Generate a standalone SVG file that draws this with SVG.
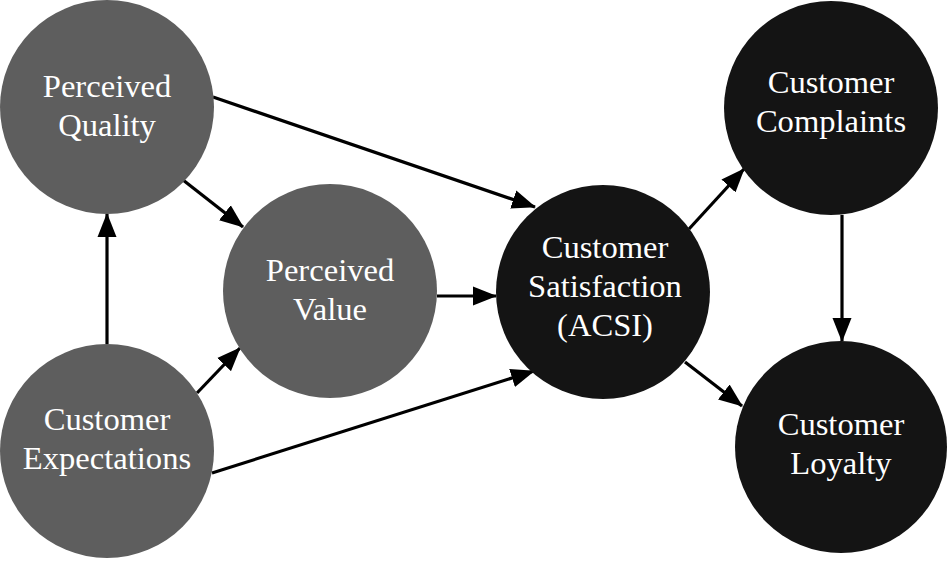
<svg xmlns="http://www.w3.org/2000/svg" width="947" height="568" viewBox="0 0 947 568">
<style>
.g{fill:#5e5e5e}
.d{fill:#141414}
text{font-family:"Liberation Serif","Times New Roman",serif;font-size:32.6px;fill:#ffffff;text-anchor:middle}
.e line{stroke:#000;stroke-width:3.2;fill:none;marker-end:url(#ah)}
</style>
<defs>
<marker id="ah" markerUnits="userSpaceOnUse" markerWidth="25" markerHeight="20" refX="23" refY="10" orient="auto" viewBox="0 0 25 20">
<path d="M0,0.5 L24,10 L0,19.5 z" fill="#000"/>
</marker>
</defs>
<rect width="947" height="568" fill="#fff"/>
<g id="connectors" class="e">
<line x1="213" y1="97" x2="535" y2="207"/>
<line x1="183" y1="180" x2="243" y2="227"/>
<line x1="107" y1="344" x2="107" y2="214"/>
<line x1="197" y1="393" x2="240" y2="348"/>
<line x1="212" y1="473" x2="534" y2="371"/>
<line x1="437" y1="296" x2="496" y2="296"/>
<line x1="689" y1="229" x2="744" y2="169"/>
<line x1="685" y1="362" x2="742" y2="406"/>
<line x1="842" y1="215" x2="842" y2="341"/>
</g>
<g id="perceived-quality">
<circle class="g" cx="107" cy="107" r="107"/>
<text x="107" y="97">Perceived</text>
<text x="107" y="136">Quality</text>
</g>
<g id="perceived-value">
<circle class="g" cx="330" cy="291" r="107"/>
<text x="330" y="281">Perceived</text>
<text x="330" y="320">Value</text>
</g>
<g id="customer-expectations">
<circle class="g" cx="107" cy="451" r="107"/>
<text x="107" y="430">Customer</text>
<text x="107" y="469">Expectations</text>
</g>
<g id="customer-satisfaction">
<circle class="d" cx="603" cy="292" r="107"/>
<text x="605" y="258">Customer</text>
<text x="605" y="297">Satisfaction</text>
<text x="605" y="336">(ACSI)</text>
</g>
<g id="customer-complaints">
<circle class="d" cx="831" cy="108" r="107"/>
<text x="831" y="93">Customer</text>
<text x="831" y="132">Complaints</text>
</g>
<g id="customer-loyalty">
<circle class="d" cx="841" cy="447" r="106"/>
<text x="841" y="435">Customer</text>
<text x="841" y="474">Loyalty</text>
</g>
</svg>
